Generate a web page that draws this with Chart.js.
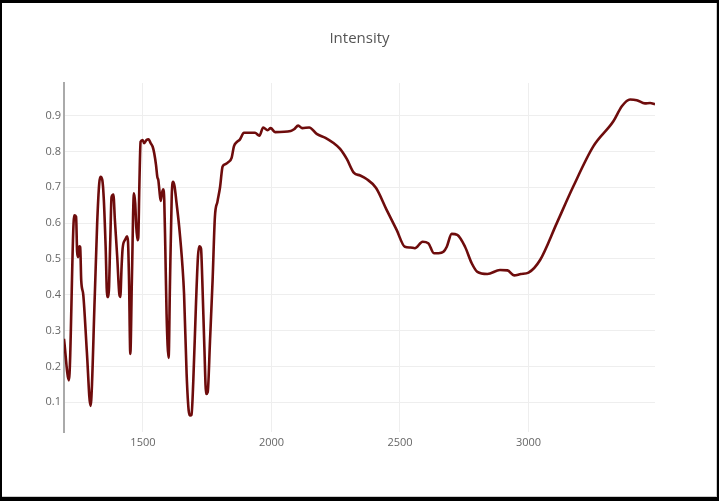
<!DOCTYPE html>
<html lang="en">
<head>
    <meta charset="UTF-8">
    <title>Intensity</title>
    <script src="https://cdn.jsdelivr.net/npm/chart.js"></script>
    <style>
        html, body {
            margin: 0;
            padding: 0;
            background-color: #000;
        }
        canvas {
            display: block;
        }
    </style>
</head>
<body>
    <canvas id="spectrum" width="719" height="501"></canvas>

    <script>
        // values
        var wavenumber = [
            1193, 1212, 1233, 1240, 1244, 1248, 1252, 1256, 1260, 1268, 1282, 1296,
            1313, 1322, 1330, 1335, 1342, 1348, 1355, 1361, 1366, 1373, 1378, 1385,
            1391, 1400, 1408, 1412, 1417, 1421, 1431, 1438, 1442, 1446, 1451, 1457,
            1465, 1470, 1474, 1479, 1482, 1486, 1491, 1499, 1505, 1514, 1522, 1530,
            1538, 1544, 1551, 1556, 1560, 1564, 1569, 1574, 1579, 1583, 1587, 1592,
            1600, 1605, 1612, 1617, 1623, 1631, 1641, 1654, 1660, 1670, 1678, 1684,
            1689, 1696, 1706, 1714, 1719, 1726, 1731, 1739, 1746, 1752, 1761, 1771,
            1780, 1790, 1800, 1810, 1822, 1832, 1845, 1854, 1865, 1877, 1893, 1936,
            1953, 1968, 1985, 1997, 2014, 2075, 2088, 2104, 2120, 2147, 2176, 2210,
            2240, 2267, 2293, 2321, 2345, 2370, 2407, 2448, 2487, 2519, 2540, 2558,
            2588, 2610, 2632, 2650, 2669, 2682, 2701, 2723, 2753, 2779, 2801, 2840,
            2889, 2918, 2944, 2970, 3000, 3045, 3110, 3174, 3252, 3330, 3363, 3395,
            3421, 3453, 3473, 3492
        ];
        var intensity = [
            0.277, 0.161, 0.622, 0.618, 0.520, 0.505, 0.535, 0.533, 0.440, 0.400, 0.240, 0.090,
            0.403, 0.599, 0.710, 0.729, 0.720, 0.664, 0.534, 0.394, 0.394, 0.552, 0.673, 0.680,
            0.608, 0.506, 0.403, 0.394, 0.478, 0.529, 0.554, 0.563, 0.548, 0.440, 0.235, 0.440,
            0.683, 0.655, 0.590, 0.552, 0.560, 0.700, 0.827, 0.832, 0.823, 0.832, 0.834, 0.823,
            0.813, 0.795, 0.762, 0.729, 0.720, 0.692, 0.662, 0.683, 0.694, 0.664, 0.534, 0.347,
            0.224, 0.422, 0.673, 0.715, 0.703, 0.655, 0.590, 0.478, 0.403, 0.179, 0.077, 0.063,
            0.065, 0.160, 0.366, 0.505, 0.535, 0.529, 0.440, 0.254, 0.123, 0.128, 0.272, 0.440,
            0.617, 0.660, 0.700, 0.758, 0.765, 0.770, 0.782, 0.814, 0.826, 0.833, 0.852, 0.852,
            0.844, 0.867, 0.859, 0.865, 0.854, 0.857, 0.862, 0.872, 0.865, 0.867, 0.849, 0.838,
            0.824, 0.807, 0.779, 0.740, 0.733, 0.723, 0.698, 0.637, 0.581, 0.534, 0.532, 0.530,
            0.548, 0.544, 0.516, 0.516, 0.520, 0.534, 0.570, 0.567, 0.534, 0.488, 0.464, 0.458,
            0.469, 0.468, 0.454, 0.458, 0.462, 0.497, 0.600, 0.702, 0.814, 0.884, 0.926, 0.945,
            0.943, 0.934, 0.935, 0.932
        ];
        var xTicks = [1500, 2000, 2500, 3000];
        var yTicks = [0.1, 0.2, 0.3, 0.4, 0.5, 0.6, 0.7, 0.8, 0.9];

        var points = wavenumber.map(function (w, i) {
            return { x: w, y: intensity[i] };
        });

        // black frame round the white plot, as in the screenshot
        var framePlugin = {
            id: 'frame',
            beforeDraw: function (chart) {
                var ctx = chart.ctx;
                ctx.save();
                ctx.fillStyle = '#000';
                ctx.fillRect(0, 0, chart.width, chart.height);
                ctx.fillStyle = '#fff';
                ctx.fillRect(2, 3, 715, 494);
                ctx.fillStyle = '#ccc';
                ctx.fillRect(716, 3, 1, 494);
                ctx.fillRect(2, 496, 715, 1);
                ctx.restore();
            }
        };

        var ctx = document.getElementById('spectrum').getContext('2d');
        var chart = new Chart(ctx, {
            type: 'line',
            data: {
                datasets: [{
                    label: 'Intensity',
                    data: points,
                    borderColor: 'rgb(110, 12, 12)',
                    borderWidth: 2.6,
                    pointRadius: 0,
                    fill: false,
                    tension: 0,
                    cubicInterpolationMode: 'monotone'
                }]
            },
            options: {
                responsive: false,
                animation: false,
                devicePixelRatio: 1,
                layout: {
                    padding: 0
                },
                plugins: {
                    legend: { display: false },
                    tooltip: { enabled: false },
                    title: {
                        display: true,
                        text: 'Intensity',
                        color: '#555',
                        font: { family: '"Open Sans", sans-serif', size: 15, weight: 'normal' },
                        padding: { top: 30, bottom: 35 }
                    }
                },
                scales: {
                    x: {
                        type: 'linear',
                        min: 1193,
                        max: 3492,
                        afterFit: function (scale) { scale.height = 69; },
                        afterBuildTicks: function (scale) {
                            scale.ticks = xTicks.map(function (v) { return { value: v }; });
                        },
                        ticks: {
                            color: '#666',
                            padding: 4,
                            maxRotation: 0,
                            font: { family: '"Open Sans", sans-serif', size: 11 },
                            callback: function (v) { return String(v); }
                        },
                        grid: { color: '#eee', drawTicks: false },
                        border: { display: false }
                    },
                    y: {
                        min: 0.017,
                        max: 0.991,
                        afterFit: function (scale) { scale.width = 64; },
                        afterBuildTicks: function (scale) {
                            scale.ticks = yTicks.map(function (v) { return { value: v }; });
                        },
                        ticks: {
                            color: '#666',
                            padding: 3,
                            font: { family: '"Open Sans", sans-serif', size: 11 },
                            callback: function (v) { return v.toFixed(1); }
                        },
                        grid: { color: '#eee', drawTicks: false },
                        border: { display: true, color: '#aaa', width: 2 }
                    },
                    // empty right margin so the title stays centred on the page
                    yRight: {
                        position: 'right',
                        min: 0,
                        max: 1,
                        afterFit: function (scale) { scale.width = 64; },
                        ticks: { display: false },
                        grid: { display: false },
                        border: { display: false }
                    }
                }
            },
            plugins: [framePlugin]
        });
    </script>
</body>
</html>
